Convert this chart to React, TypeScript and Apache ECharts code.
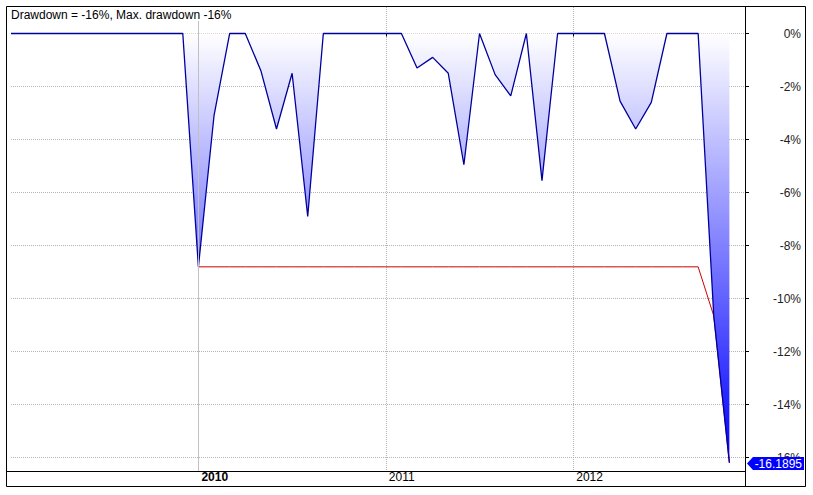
import React, { useEffect, useRef } from 'react';
import * as echarts from 'echarts';

const months = [
  '2009-01', '2009-02', '2009-03', '2009-04', '2009-05', '2009-06', '2009-07', '2009-08', '2009-09', '2009-10', '2009-11', '2009-12',
  '2010-01', '2010-02', '2010-03', '2010-04', '2010-05', '2010-06', '2010-07', '2010-08', '2010-09', '2010-10', '2010-11', '2010-12',
  '2011-01', '2011-02', '2011-03', '2011-04', '2011-05', '2011-06', '2011-07', '2011-08', '2011-09', '2011-10', '2011-11', '2011-12',
  '2012-01', '2012-02', '2012-03', '2012-04', '2012-05', '2012-06', '2012-07', '2012-08', '2012-09', '2012-10', '2012-11', '2012-12',
];

const drawdown = [
  0, 0, 0, 0, 0, 0, 0, 0, 0, 0, 0, 0,
  -8.8, -3.1, 0, 0, -1.4, -3.6, -1.5, -6.9, 0, 0, 0, 0,
  0, 0, -1.3, -0.9, -1.5, -4.95, 0, -1.55, -2.35, 0, -5.55, 0,
  0, 0, 0, -2.55, -3.6, -2.6, 0, 0, 0, -10.65, -16.1895,
];

const maxDrawdown = [
  null, null, null, null, null, null, null, null, null, null, null, null,
  -8.8, -8.8, -8.8, -8.8, -8.8, -8.8, -8.8, -8.8, -8.8, -8.8, -8.8, -8.8,
  -8.8, -8.8, -8.8, -8.8, -8.8, -8.8, -8.8, -8.8, -8.8, -8.8, -8.8, -8.8,
  -8.8, -8.8, -8.8, -8.8, -8.8, -8.8, -8.8, -8.8, -8.8, -10.65, -16.1895,
];

const yTicks = [0, -2, -4, -6, -8, -10, -12, -14, -16];
const yearStarts = ['2010-01', '2011-01', '2012-01'];
const majorYear = '2010-01';
const titleText = 'Drawdown = -16%, Max. drawdown -16%';
const lastValueLabel = '-16.1895';

const FONT = '"Liberation Sans", Arial, sans-serif';

export default function App() {
  const ref = useRef<HTMLDivElement>(null);

  useEffect(() => {
    const chart = echarts.init(ref.current!, null, { renderer: 'svg' });
    const isYear = (i: number) => yearStarts.indexOf(months[i]) >= 0;

    const frame: any[] = [
      { id: 'titleBg', type: 'rect', z: 100, shape: { x: 7, y: 7, width: 228, height: 14 }, style: { fill: '#fff' } },
      { id: 'title', type: 'text', z: 101, x: 11, y: 9, style: { text: titleText, fontSize: 12, fontFamily: FONT, fill: '#000' } },
      { id: 'frame', type: 'rect', z: 100, shape: { x: 6.5, y: 6.5, width: 799, height: 480 }, style: { fill: 'none', stroke: '#000', lineWidth: 1 } },
      { id: 'vline', type: 'line', z: 100, shape: { x1: 745.5, y1: 6.5, x2: 745.5, y2: 486.5 }, style: { stroke: '#000', lineWidth: 1 } },
      { id: 'hline', type: 'line', z: 100, shape: { x1: 6.5, y1: 471.5, x2: 745.5, y2: 471.5 }, style: { stroke: '#000', lineWidth: 1 } },
    ];

    chart.setOption({
      animation: false,
      backgroundColor: '#fff',
      grid: { left: 11, right: 68, top: 7, bottom: 24, containLabel: false },
      xAxis: {
        type: 'category',
        data: months,
        boundaryGap: false,
        axisLine: { show: false },
        axisTick: { show: true, interval: (i: number) => isYear(i), length: 3, lineStyle: { color: '#000' } },
        axisLabel: {
          interval: (i: number) => isYear(i),
          formatter: (v: string) => (v === majorYear ? '{b|' + v.slice(0, 4) + '}' : '{n|' + v.slice(0, 4) + '}'),
          align: 'left',
          margin: 0,
          rich: {
            b: { fontWeight: 'bold', fontSize: 12, fontFamily: FONT, color: '#000', padding: [0, 0, 0, 3] },
            n: { fontSize: 12, fontFamily: FONT, color: '#000', padding: [0, 0, 0, 3] },
          },
        },
        splitLine: { show: true, interval: (i: number) => isYear(i) && months[i] !== majorYear, lineStyle: { color: '#b4b4b4', type: 'dotted', width: 1 } },
      },
      yAxis: {
        type: 'value',
        position: 'right',
        min: -16.5,
        max: 1,
        axisLine: { show: false },
        axisTick: { show: true, length: 4, customValues: yTicks, lineStyle: { color: '#000' } },
        axisLabel: {
          customValues: yTicks,
          formatter: (v: number) => v + '%',
          align: 'right',
          margin: 56,
          fontSize: 12,
          fontFamily: FONT,
          color: '#222',
        },
        splitLine: { show: true, lineStyle: { color: '#b4b4b4', type: 'dotted', width: 1 } },
      },
      series: [
        {
          type: 'line',
          name: 'Max. drawdown',
          data: maxDrawdown,
          symbol: 'none',
          z: 2,
          lineStyle: { color: '#cc0000', width: 1 },
          markLine: {
            silent: true,
            symbol: 'none',
            label: { show: false },
            lineStyle: { color: '#c0c0c0', type: 'solid', width: 1 },
            data: [{ xAxis: majorYear }],
          },
        },
        {
          type: 'line',
          name: 'Drawdown',
          data: drawdown,
          symbol: 'none',
          z: 3,
          lineStyle: { color: '#00009c', width: 1.3 },
          areaStyle: {
            opacity: 1,
            color: new echarts.graphic.LinearGradient(0, 0, 0, 1, [
              { offset: 0, color: '#ffffff' },
              { offset: 1, color: '#0000ff' },
            ]),
          },
        },
      ],
      graphic: frame,
    });

    const lastIdx = drawdown.length - 1;
    const pt = chart.convertToPixel({ seriesIndex: 1 }, [lastIdx, drawdown[lastIdx]]) as number[];
    const py = Math.round(pt[1]) + 0.5;
    const ax = 745.5;
    chart.setOption({
      graphic: [
        ...frame,
        {
          id: 'tag', type: 'polygon', z: 110,
          shape: { points: [[ax + 1.5, py], [ax + 7.5, py - 6.5], [ax + 58.5, py - 6.5], [ax + 58.5, py + 6.5], [ax + 7.5, py + 6.5]] },
          style: { fill: '#0000ff' },
        },
        {
          id: 'tagText', type: 'text', z: 111, x: ax + 56.5, y: py,
          style: { text: lastValueLabel, fontSize: 12, fontFamily: FONT, fill: '#fff', align: 'right', verticalAlign: 'middle' },
        },
      ],
    });

    return () => chart.dispose();
  }, []);

  return <div ref={ref} style={{ position: 'fixed', left: 0, top: 0, width: 813, height: 495 }} />;
}
